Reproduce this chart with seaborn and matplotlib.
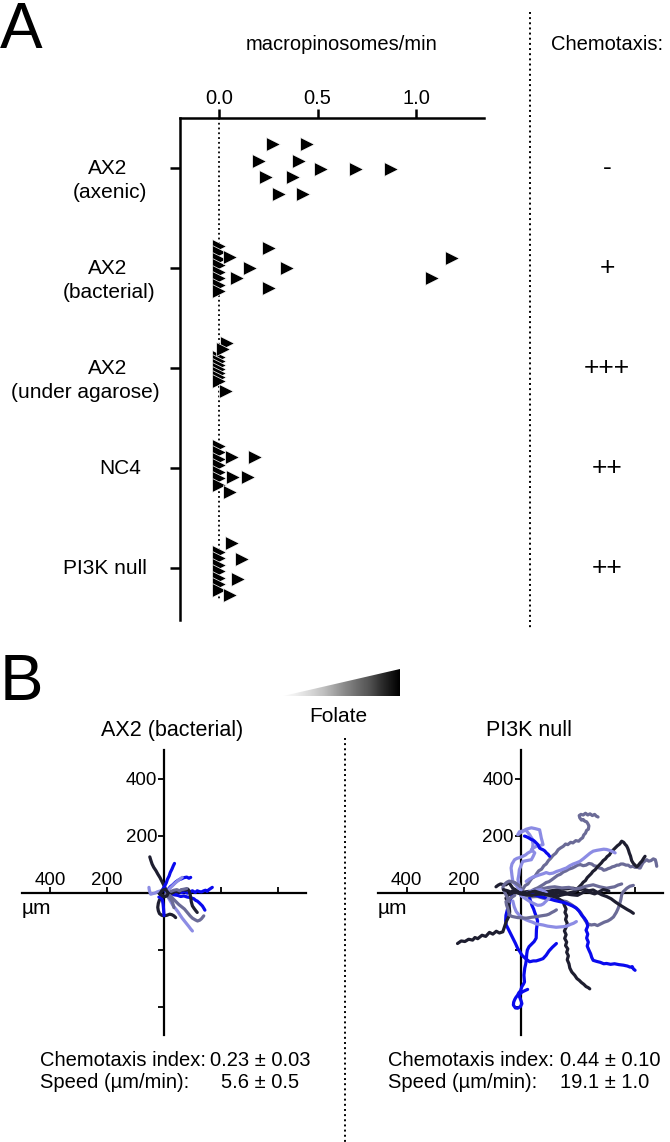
import numpy as np
import pandas as pd
import matplotlib
matplotlib.use('Agg')
import matplotlib.pyplot as plt
import matplotlib.transforms as mtransforms
from matplotlib.lines import Line2D
from matplotlib.patches import Polygon
import seaborn as sns

# ---------------- Panel A data ----------------
strains = ['AX2 (axenic)', 'AX2 (bacterial)', 'AX2 (under agarose)', 'NC4', 'PI3K null']
strain_lines = [('AX2', '(axenic)'), ('AX2', '(bacterial)'), ('AX2', '(under agarose)'),
                ('NC4', ''), ('PI3K null', '')]
chemotaxis = ['-', '+', '+++', '++', '++']
rate_ticks = [0.0, 0.5, 1.0]

axenic_rate = [0.274, 0.447, 0.203, 0.406, 0.518, 0.695, 0.873, 0.239, 0.376, 0.305, 0.426]
axenic_jitter = [-0.24, -0.24, -0.07, -0.07, 0.01, 0.01, 0.01, 0.09, 0.09, 0.26, 0.26]

bacterial_rate = [0.0, 0.0, 0.0, 0.0, 0.0, 0.0, 0.0, 0.0,
                  0.254, 0.056, 0.157, 0.345, 0.091, 0.254, 1.183, 1.081]
bacterial_jitter = [-0.225, -0.16, -0.095, -0.03, 0.035, 0.10, 0.165, 0.23,
                    -0.20, -0.11, 0.0, 0.0, 0.10, 0.20, -0.10, 0.10]

agarose_rate = [0.0, 0.0, 0.0, 0.0, 0.0, 0.0, 0.0, 0.04, 0.02, 0.035]
agarose_jitter = [-0.11, -0.07, -0.03, 0.01, 0.05, 0.09, 0.13, -0.25, -0.19, 0.23]

nc4_rate = [0.0, 0.0, 0.0, 0.0, 0.0, 0.0, 0.0, 0.066, 0.183, 0.071, 0.147, 0.056]
nc4_jitter = [-0.225, -0.16, -0.095, -0.03, 0.035, 0.10, 0.165, -0.11, -0.11, 0.09, 0.09, 0.24]

pi3k_rate = [0.0, 0.0, 0.0, 0.0, 0.0, 0.0, 0.0, 0.066, 0.117, 0.097, 0.056]
pi3k_jitter = [-0.165, -0.10, -0.035, 0.03, 0.095, 0.16, 0.22, -0.25, -0.09, 0.11, 0.27]

# ---------------- Panel B data (tracks, um) ----------------
axis_ticks = [-400, -200, 200, 400]

ax2_track_x = [
    [-50, -47, -42, -36, -28, -22, -14, -8, -2, 4, 9, 12],
    [-10, -4, 2, 8, 12, 18, 22, 28, 33, 37],
    [5, 14, 22, 32, 40, 47, 55, 62, 70, 80, 88, 94],
    [8, 15, 22, 30, 38, 45, 52, 60, 64],
    [10, 22, 35, 48, 59, 70, 82, 94, 105, 112, 117, 124, 130, 135, 140, 144],
    [40, 52, 62, 72, 82, 92, 100, 110, 117, 125, 132, 140, 146, 152, 158, 164, 170],
    [15, 28, 40, 52, 59, 68, 76, 84, 88, 92, 94, 96, 100, 106, 112, 117],
    [20, 28, 36, 44, 52, 62, 72, 82, 92, 100, 110, 118, 126, 132, 136, 140],
    [25, 35, 45, 55, 62, 72, 80],
    [10, 14, 20, 26, 32, 40, 48, 56, 64, 72, 80, 88, 94, 100],
    [0, -8, -16, -20, -22, -20, -16, -8, 0, 10, 20, 28, 35, 41],
    [-53, -52, -50, -47, -40, -32, -24, -12],
    [-18, -12, -8, -5, -3, -2, -1, 0],
    [6, 12, 18, 24, 29, 32, 35],
    [-15, -8, 0, 8, 15, 10, 2, -6, -12, -15],
]
ax2_track_y = [
    [125, 115, 100, 88, 76, 65, 52, 40, 28, 16, 6, -4],
    [4, 12, 22, 34, 46, 58, 70, 82, 94, 102],
    [4, 10, 20, 28, 36, 41, 46, 48, 52, 54, 50, 53],
    [2, 8, 16, 24, 32, 38, 44, 50, 53],
    [-4, -2, -8, -10, -14, -12, -16, -18, -22, -28, -30, -36, -42, -47, -55, -62],
    [-2, 4, 0, 3, -2, 2, 6, 0, 6, 3, 2, 6, 8, 4, 10, 14, 18],
    [-6, -2, 4, 2, 8, 10, 8, 12, 6, -6, -18, -32, -47, -56, -64, -70],
    [-10, -18, -26, -34, -42, -50, -58, -70, -82, -90, -96, -100, -97, -92, -87, -82],
    [4, 8, 10, 6, 10, 12, 14],
    [-8, -16, -26, -36, -46, -56, -66, -78, -90, -100, -110, -120, -128, -135],
    [-12, -18, -26, -38, -52, -64, -74, -80, -82, -80, -76, -78, -82, -88],
    [18, 10, 2, -6, -4, -2, 2, 6],
    [-16, -18, -22, -30, -42, -53, -66, -81],
    [-6, -12, -18, -24, -32, -42, -53],
    [-5, 6, 10, 8, -2, -12, -15, -12, -6, -5],
]
ax2_track_shade = ['navy', 'blue', 'blue', 'lav', 'blue', 'blue', 'navy', 'gray',
                   'gray', 'lav', 'navy', 'lav', 'blue', 'gray', 'navy']

pi3k_track_x = [
    [0, 10, 16, 26, 34, 40, 50, 58, 64, 74, 82, 90, 98, 106, 114, 124, 132, 140, 150, 158, 166, 176, 184, 194, 204, 212, 218, 222, 228, 232, 238, 240, 236, 232, 226, 220, 214, 208, 206, 212, 220, 228, 236, 244, 252, 260, 266, 272],
    [10, 22, 30, 42, 50, 60, 70, 80, 90, 100, 110, 122, 130, 140, 150, 160, 170, 182, 190, 200, 210, 220, 230, 240, 250, 258, 267, 276, 285, 292, 300, 308, 315, 322, 330, 338, 345, 352, 360, 370, 378, 386, 395, 402, 410, 416, 420, 425, 430, 436, 443, 450, 458, 466, 473, 476, 478],
    [0, 15, 30, 45, 60, 75, 90, 105, 120, 135, 150, 165, 180, 192, 200, 206, 214, 220, 228, 234, 240, 248, 254, 262, 270, 276, 284, 290, 298, 304, 312, 318, 326, 332, 340, 348, 355, 362, 368, 372, 376, 379, 382, 386, 390, 396, 402, 408, 414, 420, 426, 432, 437],
    [20, 32, 45, 56, 67, 80, 90, 102, 114, 127, 140, 150, 161, 173, 185, 196, 208, 220, 232, 244, 255, 268, 280, 292, 302, 312, 322, 332],
    [2, 20, 40, 60, 80, 100, 120, 140, 161, 178, 192, 204, 212, 220, 228, 236, 248, 260, 270, 282, 294, 306, 316, 326, 336, 343, 348, 352, 355, 360, 366, 373, 384, 396],
    [0, 30, 67, 95, 120, 150, 185, 205, 220, 240, 255, 270, 285, 302, 318, 334, 349, 362, 375, 386, 396],
    [100, 108, 114, 122, 130, 140, 149, 154, 160, 156, 162, 158, 164, 160, 154, 160, 155, 162, 158, 166, 162, 168, 164, 170, 173, 180, 190, 198, 206, 214, 222, 230, 238, 243],
    [40, 55, 67, 85, 100, 120, 138, 155, 170, 184, 196, 206, 215, 224, 232, 236, 230, 236, 232, 238, 234, 240, 246, 250, 255, 268, 280, 292, 302, 316, 330, 345, 361, 375, 385, 392, 396, 402],
    [32, 36, 40, 46, 50, 56, 60, 58, 56, 55, 48, 40, 30, 24, 22, 20, 18, 15, 12, 14, 10, 5, 0, -6, -10, -16, -20, -24, -25, -18, -10, 0, 5, 2, -5, 4, 14, 25],
    [-27, -35, -40, -46, -51, -52, -50, -42, -34, -27, -18, -10, -2, 5, 18, 32, 45, 55, 68, 79, 90, 100, 112, 126],
    [-27, -36, -45, -51, -48, -45, -40, -39, -38, -39, -45, -50, -56, -62, -74, -85, -97, -109, -122, -135, -150, -160, -168, -182, -195, -208, -221],
    [-86, -78, -70, -62, -51, -45, -40, -34, -27, -18, -10],
    [-27, -22, -15, -4, 8, 20, 30, 42, 55, 67, 79, 95, 110, 125, 149, 162, 175, 186, 196],
    [-20, -35, -51, -49, -45, -39, -30, -20, -10, 5, 20, 38, 55, 72, 91, 100, 110, 118, 126],
    [2, -8, -15, -22, -27, -30, -33, -30, -25, -21, -12, -5, 8, 18, 25, 32, 38, 42, 44, 42, 40, 36, 32, 26, 20, 8, -4, -9],
    [-9, 0, 8, 20, 38, 52, 67, 70, 73, 76, 79, 68, 55, 45, 38, 44, 50, 44, 38, 22, 8, 2, -4, -6, -9, -6, -4],
    [14, 20, 28, 38, 44, 49, 55, 61, 64, 67, 72, 79, 85, 91, 97, 102],
    [-39, -50, -62, -60, -55, -48, -40, -30, -20, -10, 0],
    [60, 80, 100, 120, 145, 170, 190, 208, 230, 255, 278, 302, 318, 330, 342, 355],
    [0, 15, 30, 45, 60, 72, 80, 90, 100, 96, 90, 80, 70, 55, 40, 25],
    [-30, -15, 0, 20, 40, 60, 80, 100, 120, 140, 160, 180, 200, 215, 230, 245, 260, 275, 290, 300, 310],
    [-60, -45, -30, -10, 10, 30, 50, 70, 90, 110, 130, 145, 160],
]
pi3k_track_y = [
    [0, 14, 24, 30, 42, 50, 56, 68, 76, 82, 94, 100, 112, 120, 130, 138, 150, 156, 162, 170, 168, 176, 174, 182, 180, 188, 192, 202, 208, 218, 222, 234, 242, 248, 250, 256, 254, 262, 270, 274, 272, 278, 272, 276, 270, 274, 268, 265],
    [-10, -4, 0, 8, 12, 16, 22, 28, 35, 38, 45, 54, 60, 64, 72, 76, 82, 86, 90, 96, 98, 94, 96, 102, 100, 94, 92, 86, 84, 78, 80, 84, 86, 90, 92, 96, 96, 100, 100, 96, 96, 90, 92, 88, 90, 86, 86, 96, 105, 110, 115, 110, 112, 118, 115, 104, 92],
    [0, -5, -2, -7, -2, -6, 2, -3, -6, -1, 2, -3, 1, 4, 14, 20, 28, 36, 42, 52, 58, 66, 74, 80, 90, 96, 104, 112, 118, 126, 132, 142, 150, 156, 164, 170, 180, 176, 168, 164, 156, 148, 138, 128, 112, 102, 96, 90, 96, 104, 110, 120, 127],
    [39, 48, 55, 58, 62, 66, 70, 66, 68, 74, 78, 82, 86, 94, 100, 104, 109, 118, 128, 138, 145, 148, 150, 152, 151, 148, 144, 139],
    [-8, -12, -15, -14, -20, -22, -24, -28, -32, -42, -52, -62, -72, -86, -100, -110, -114, -112, -116, -110, -104, -100, -94, -86, -70, -55, -40, -25, -8, 2, 8, 15, 22, 25],
    [0, 4, -2, 4, 8, 12, 15, 10, 12, 6, 9, 0, -8, -14, -22, -34, -44, -52, -60, -66, -73],
    [0, -4, -8, -14, -20, -26, -32, -45, -58, -70, -82, -95, -108, -122, -135, -148, -161, -174, -186, -198, -210, -222, -236, -250, -265, -279, -290, -302, -308, -316, -322, -330, -334, -338],
    [-5, -10, -14, -18, -22, -28, -32, -36, -42, -48, -55, -66, -80, -90, -102, -118, -132, -146, -160, -174, -188, -202, -215, -228, -238, -242, -245, -250, -249, -252, -250, -253, -255, -258, -262, -260, -268, -273],
    [-20, -32, -45, -58, -70, -86, -100, -115, -130, -160, -172, -180, -190, -202, -215, -240, -252, -265, -290, -314, -322, -330, -345, -352, -360, -368, -375, -385, -395, -405, -406, -400, -390, -380, -362, -350, -345, -340],
    [-8, -22, -40, -60, -80, -98, -114, -130, -146, -160, -178, -196, -208, -220, -232, -243, -240, -240, -236, -232, -220, -205, -192, -179],
    [-2, -6, -10, -20, -28, -35, -45, -55, -68, -80, -92, -102, -120, -138, -142, -136, -146, -140, -154, -150, -162, -158, -167, -164, -172, -170, -179],
    [20, 26, 30, 28, 27, 32, 35, 25, 15, 10, 5],
    [-30, -50, -67, -80, -90, -96, -100, -104, -110, -112, -114, -118, -120, -122, -120, -118, -112, -108, -102],
    [-10, -20, -32, -44, -55, -79, -84, -86, -88, -89, -90, -87, -85, -82, -79, -76, -70, -66, -61],
    [9, 16, 25, 32, 39, 60, 86, 100, 108, 115, 120, 122, 127, 132, 138, 142, 145, 155, 170, 180, 190, 196, 203, 210, 218, 216, 213, 203],
    [203, 210, 215, 222, 227, 224, 220, 206, 191, 180, 168, 165, 162, 156, 150, 145, 139, 126, 115, 112, 109, 95, 80, 62, 45, 30, 15],
    [198, 196, 192, 186, 184, 180, 174, 168, 162, 156, 153, 150, 146, 139, 134, 127],
    [-32, -10, 15, 24, 30, 36, 40, 38, 35, 28, 20],
    [10, 14, 18, 20, 16, 18, 12, 15, 22, 27, 20, 15, 18, 20, 26, 30],
    [-10, -20, -30, -38, -45, -44, -40, -30, -20, -8, 0, 6, 10, 8, 5, 0],
    [5, 0, -5, -8, -10, -6, -5, -10, -15, -10, -5, -8, -10, -2, 5, 0, -5, 2, 10, 8, 5],
    [10, 6, 0, 2, -5, 0, 5, -2, -8, -4, 2, -2, -5],
]
pi3k_track_shade = ['gray', 'gray', 'navy', 'lav', 'gray', 'navy', 'navy', 'blue', 'blue',
                    'blue', 'navy', 'navy', 'lav', 'gray', 'lav', 'lav', 'blue', 'gray',
                    'gray', 'lav', 'navy', 'navy']

chemotaxis_index = ['0.23 ± 0.03', '0.44 ± 0.10']
speed = ['5.6 ± 0.5', '19.1 ± 1.0']
panel_b_titles = ['AX2 (bacterial)', 'PI3K null']

# ---------------- style ----------------
sns.set_theme(style='white')
plt.rcParams['font.family'] = ['Liberation Sans', 'DejaVu Sans']
plt.rcParams.update({'axes.edgecolor': 'black', 'text.color': 'black',
                     'xtick.color': 'black', 'ytick.color': 'black',
                     'axes.labelcolor': 'black'})
shade_colors = {'navy': '#1e1e30', 'blue': '#0a0aee', 'lav': '#8c8ce4', 'gray': '#6b6b97'}

W, H = 670, 1142
fig = plt.figure(figsize=(W / 100, H / 100), dpi=100)


def fx(px):
    return px / W


def fy(py):
    return 1 - py / H


# ---------------- Panel A ----------------
rates = [axenic_rate, bacterial_rate, agarose_rate, nc4_rate, pi3k_rate]
jitters = [axenic_jitter, bacterial_jitter, agarose_jitter, nc4_jitter, pi3k_jitter]
rows = []
for i, (r, j) in enumerate(zip(rates, jitters)):
    for v, o in zip(r, j):
        rows.append({'strain': strains[i], 'rate': v, 'ypos': i + o})
dfA = pd.DataFrame(rows)

axA = fig.add_axes([fx(180), fy(620), fx(484) - fx(180), fy(118) - fy(620)])
axA.plot([0, 0], [-0.5, 4.32], ls=':', lw=1.3, color='black', zorder=1)
sns.scatterplot(data=dfA, x='rate', y='ypos', marker='>', s=100, color='black',
                edgecolor='white', linewidth=0.5, legend=False, ax=axA, zorder=3)
axA.set_xlim(-0.198, 1.345)
axA.set_ylim(4.52, -0.5)
for side in ['bottom', 'right']:
    axA.spines[side].set_visible(False)
for side in ['top', 'left']:
    axA.spines[side].set_linewidth(1.8)
axA.set_xticks(rate_ticks)
axA.set_xticklabels(['%.1f' % t for t in rate_ticks])
axA.tick_params(axis='x', top=True, labeltop=True, bottom=False, labelbottom=False,
                direction='out', length=6.5, width=1.8, labelsize=14.5, pad=1)
axA.set_yticks(range(len(strains)))
axA.set_yticklabels([])
axA.tick_params(axis='y', left=True, direction='out', length=7, width=1.8)
axA.set_xlabel('')
axA.set_ylabel('')

row_tr = mtransforms.blended_transform_factory(fig.transFigure, axA.transData)
first_x = [108, 108, 108, 120, 105]
second_x = [110, 109, 85, 0, 0]
for i, (l1, l2) in enumerate(strain_lines):
    fig.text(fx(first_x[i]), i, l1, transform=row_tr, ha='center', va='center', fontsize=15)
    if l2:
        fig.text(fx(second_x[i]), i + 0.245, l2, transform=row_tr, ha='center',
                 va='center', fontsize=15)
    fig.text(fx(607), i, chemotaxis[i], transform=row_tr, ha='center', va='center',
             fontsize=19)

fig.text(fx(342), fy(45), 'macropinosomes/min', ha='center', va='center', fontsize=14.5)
fig.text(fx(607), fy(45), 'Chemotaxis:', ha='center', va='center', fontsize=14.5)
fig.add_artist(Line2D([fx(530), fx(530)], [fy(12), fy(630)], transform=fig.transFigure,
                      ls=':', lw=1.4, color='black'))

fig.text(0, fy(1), 'A', ha='left', va='top', fontsize=46)
fig.text(0, fy(653), 'B', ha='left', va='top', fontsize=47)

# ---------------- Folate wedge ----------------
wax = fig.add_axes([fx(283), fy(696), fx(400) - fx(283), fy(669) - fy(696)])
wax.axis('off')
grad = np.linspace(0.03, 1.0, 256)[None, :]
im = wax.imshow(grad, cmap='Greys', vmin=0, vmax=1, extent=[0, 1, 0, 1], aspect='auto')
wedge = Polygon([(0, 0), (1, 0), (1, 1)], closed=True, transform=wax.transData)
im.set_clip_path(wedge)
wax.set_xlim(0, 1)
wax.set_ylim(0, 1)
fig.text(fx(338), fy(716), 'Folate', ha='center', va='center', fontsize=15)

fig.add_artist(Line2D([fx(345), fx(345)], [fy(738), 0], transform=fig.transFigure,
                      ls=':', lw=1.4, color='black'))

# ---------------- Panel B ----------------
def track_frame(xs, ys, shades):
    recs = []
    for k, (tx, ty) in enumerate(zip(xs, ys)):
        for a, b in zip(tx, ty):
            recs.append({'track': 't%d' % k, 'x': a, 'y': b})
    pal = {'t%d' % k: shade_colors[s] for k, s in enumerate(shades)}
    return pd.DataFrame(recs), pal


panels = [
    (22, 306, ax2_track_x, ax2_track_y, ax2_track_shade),
    (378, 663, pi3k_track_x, pi3k_track_y, pi3k_track_shade),
]
for p, (x0, x1, tx, ty, ts) in enumerate(panels):
    ax = fig.add_axes([fx(x0), fy(1035), fx(x1) - fx(x0), fy(750) - fy(1035)])
    ax.set_facecolor('none')
    df, pal = track_frame(tx, ty, ts)
    sns.lineplot(data=df, x='x', y='y', hue='track', palette=pal, units='track',
                 estimator=None, sort=False, linewidth=2.3, legend=False, ax=ax,
                 solid_capstyle='round', solid_joinstyle='round', zorder=3)
    ax.set_xlim(-500, 500)
    ax.set_ylim(-500, 500)
    for side in ['top', 'right']:
        ax.spines[side].set_visible(False)
    for side in ['left', 'bottom']:
        ax.spines[side].set_position(('data', 0))
        ax.spines[side].set_linewidth(1.6)
        ax.spines[side].set_zorder(2)
    ax.set_xticks(axis_ticks)
    ax.set_xticklabels(['%d' % abs(t) if t < 0 else '' for t in axis_ticks])
    ax.set_yticks(axis_ticks)
    ax.set_yticklabels(['%d' % t if t > 0 else '' for t in axis_ticks])
    ax.tick_params(axis='x', bottom=True, direction='in', length=4, width=1.3,
                   labelsize=13.5, pad=-15)
    ax.tick_params(axis='y', left=True, direction='out', length=4, width=1.3,
                   labelsize=13.5, pad=1)
    ax.set_xlabel('')
    ax.set_ylabel('')
    ax.text(-500, -22, 'µm', ha='left', va='top', fontsize=15)
    ax.text(0.53, 1.07, panel_b_titles[p], transform=ax.transAxes, ha='center',
            va='center', fontsize=15.5)

# ---------------- summary text ----------------
summary_cols = [(40, 210, 221), (388, 560, 560)]
for p, (left, v1, v2) in enumerate(summary_cols):
    fig.text(fx(left), fy(1060), 'Chemotaxis index:', ha='left', va='center', fontsize=14.5)
    fig.text(fx(v1), fy(1060), chemotaxis_index[p], ha='left', va='center', fontsize=14.5)
    fig.text(fx(left), fy(1083), 'Speed (µm/min):', ha='left', va='center', fontsize=14.5)
    fig.text(fx(v2), fy(1083), speed[p], ha='left', va='center', fontsize=14.5)

fig.savefig('out.png', dpi=100)
